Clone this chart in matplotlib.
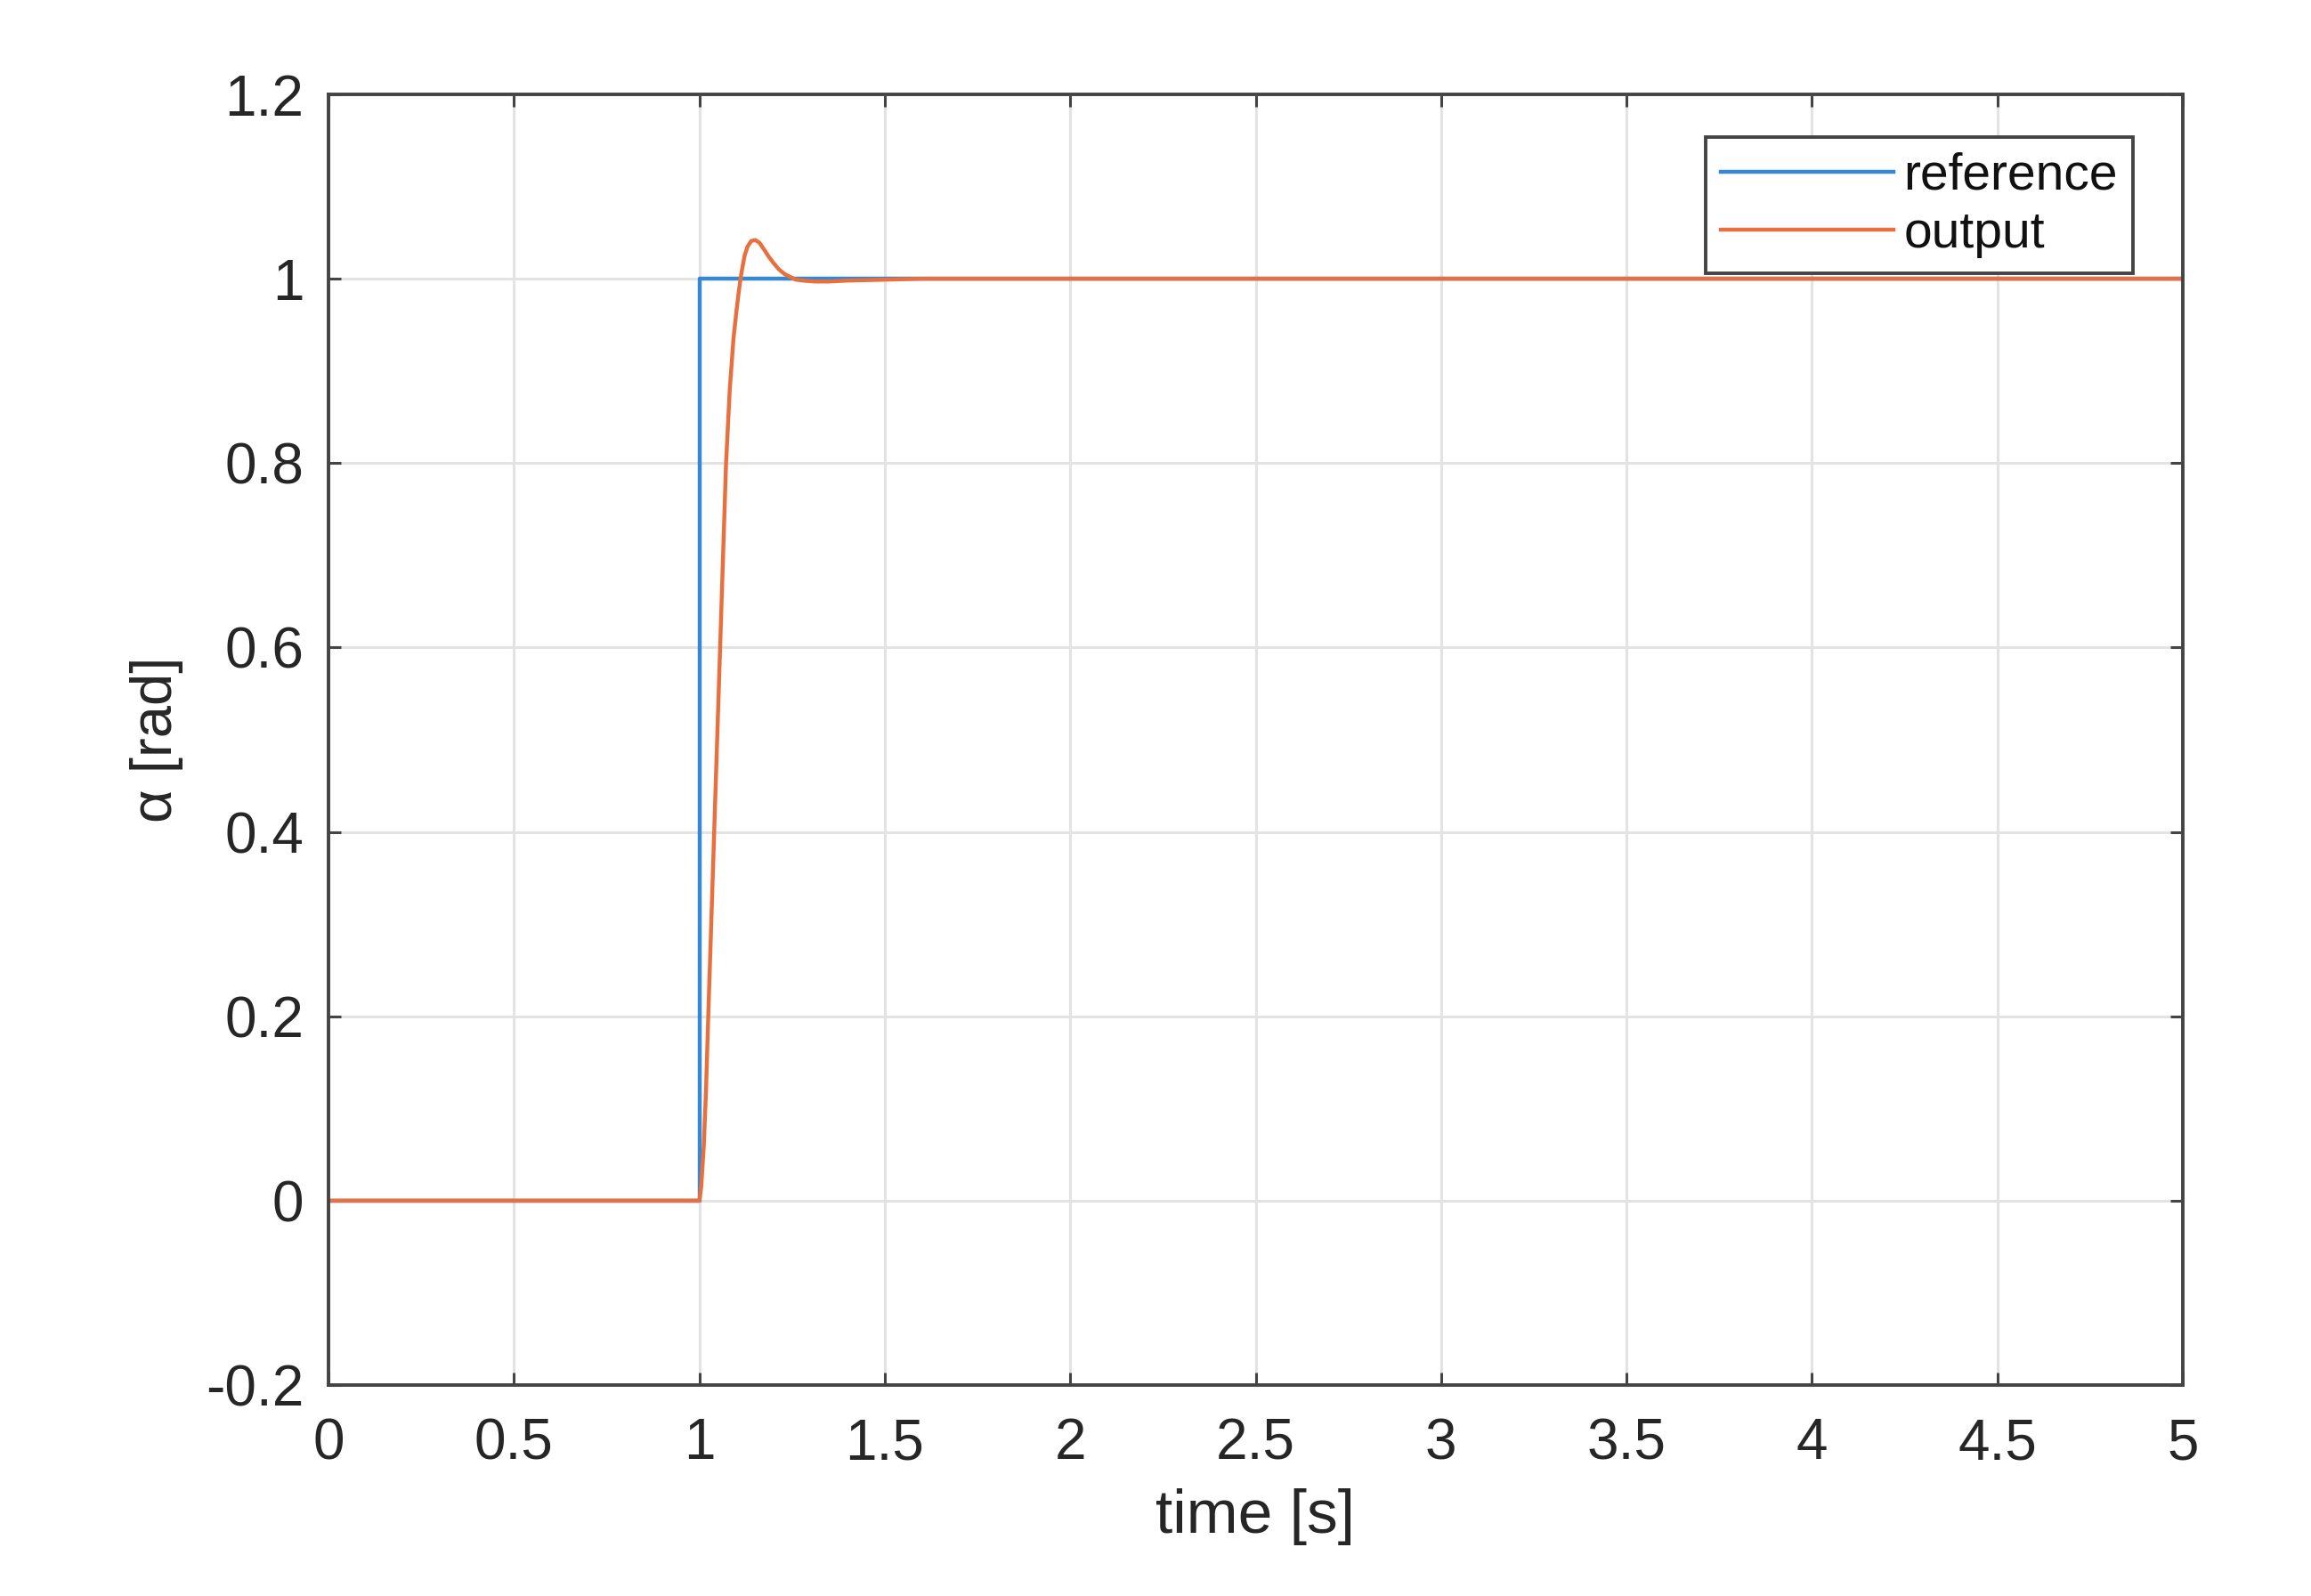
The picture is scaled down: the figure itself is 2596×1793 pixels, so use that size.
import numpy as np
import matplotlib.pyplot as plt

ref_time = [0.0, 1.0, 1.0, 5.0]
ref_alpha = [0.0, 0.0, 1.0, 1.0]

out_time = [0.0, 1.0, 1.005, 1.012, 1.018, 1.024, 1.032, 1.040, 1.048, 1.056,
            1.064, 1.072, 1.082, 1.092, 1.100, 1.106, 1.111, 1.116, 1.122,
            1.130, 1.140, 1.151, 1.162, 1.174, 1.187, 1.200, 1.215, 1.230,
            1.245, 1.260, 1.280, 1.310, 1.350, 1.400, 1.500, 1.600, 5.0]
out_alpha = [0.0, 0.0, 0.015, 0.06, 0.12, 0.20, 0.30, 0.40, 0.50, 0.60,
             0.70, 0.80, 0.88, 0.935, 0.965, 0.985, 1.0, 1.012, 1.025,
             1.035, 1.041, 1.042, 1.039, 1.032, 1.024, 1.017, 1.010, 1.005,
             1.002, 0.999, 0.998, 0.997, 0.997, 0.998, 0.999, 1.0, 1.0]

x_ticks = [0, 0.5, 1, 1.5, 2, 2.5, 3, 3.5, 4, 4.5, 5]
y_ticks = [-0.2, 0, 0.2, 0.4, 0.6, 0.8, 1, 1.2]

plt.rcParams['font.family'] = ['Liberation Sans', 'DejaVu Sans']
text_col = '#262626'

fig = plt.figure(figsize=(25.96, 17.93), dpi=100)
ax = fig.add_axes([369 / 2596, 1 - 1556 / 1793, 2083 / 2596, 1450 / 1793])

ax.plot(ref_time, ref_alpha, color='#3389d5', lw=3.2, label='reference')
ax.plot(out_time, out_alpha, color='#e8703f', lw=3.2, label='output')

ax.set_xlim(0, 5)
ax.set_ylim(-0.2, 1.2)
ax.set_xticks(x_ticks)
ax.set_yticks(y_ticks)
ax.set_xticklabels(['%g' % v for v in x_ticks])
ax.set_yticklabels(['%g' % v for v in y_ticks])

ax.grid(True, color='#e3e3e3', lw=2.2)
ax.set_axisbelow(True)
for s in ax.spines.values():
    s.set_color('#444444')
    s.set_linewidth(2.8)
ax.tick_params(direction='in', length=10, width=2.2, color='#444444',
               labelsize=46, labelcolor=text_col, top=True, right=True)
ax.tick_params(axis='y', pad=20)
ax.tick_params(axis='x', pad=26)

ax.set_xlabel('time [s]', fontsize=50, color=text_col, labelpad=14)
ax.set_ylabel('α [rad]', fontsize=47, color=text_col, labelpad=18)

leg = ax.legend(loc='upper right', bbox_to_anchor=(0.973, 0.967), fontsize=41,
                handlelength=3.4, handletextpad=0.2, borderpad=0.3,
                labelspacing=0.2, fancybox=False, framealpha=1,
                edgecolor='#444444', borderaxespad=0)
leg.get_frame().set_linewidth(2.8)
for t in leg.get_texts():
    t.set_color('#111111')

fig.savefig('out.png', dpi=100, facecolor='white')
